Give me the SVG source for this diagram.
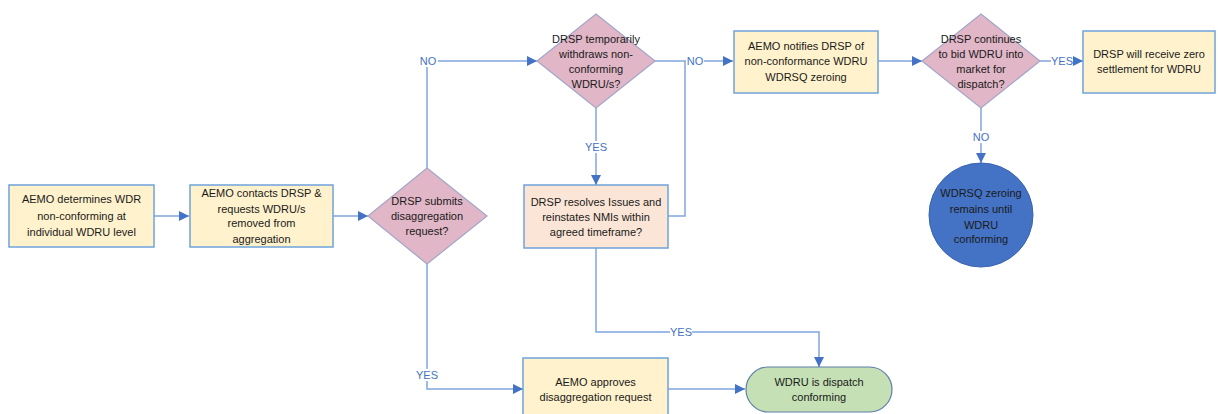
<svg xmlns="http://www.w3.org/2000/svg" width="1218" height="414" viewBox="0 0 1218 414">
<defs>
<style>
.box{fill:#FFF2CC;stroke:#6FA3DA;stroke-width:1.5}
.peach{fill:#FBE5D6;stroke:#6FA3DA;stroke-width:1.5}
.dia{fill:#E1B6C6;stroke:#A3A6C9;stroke-width:1.2}
.term{fill:#C5E0B4;stroke:#5F7FA8;stroke-width:1.2}
.circ{fill:#4472C4;stroke:#3A64B0;stroke-width:1}
.t{font-family:"Liberation Sans",Arial,sans-serif;font-size:11px;fill:#1A1A1A;text-anchor:middle}
.lbl{font-family:"Liberation Sans",Arial,sans-serif;font-size:11px;fill:#4472C4;text-anchor:middle}
.c{fill:none;stroke:#7FA6DD;stroke-width:1.5}
.lb{fill:#FFFFFF}
</style>
<marker id="ah" viewBox="0 0 10 10" refX="10" refY="5" markerWidth="10" markerHeight="10" markerUnits="userSpaceOnUse" orient="auto">
<path d="M0,0 L10,5 L0,10 z" fill="#4472C4"/>
</marker>
</defs>
<rect width="1218" height="414" fill="#FFFFFF"/>

<g id="connectors">
<path class="c" d="M154,216 H189" marker-end="url(#ah)"/>
<path class="c" d="M333,216 H368" marker-end="url(#ah)"/>
<path class="c" d="M427,168 V61 H537" marker-end="url(#ah)"/>
<path class="c" d="M596,108 V185" marker-end="url(#ah)"/>
<path class="c" d="M655,61 H733" marker-end="url(#ah)"/>
<path class="c" d="M668,216 H685 V61"/>
<path class="c" d="M878,61 H922" marker-end="url(#ah)"/>
<path class="c" d="M1040,61 H1083" marker-end="url(#ah)"/>
<path class="c" d="M981,108 V163" marker-end="url(#ah)"/>
<path class="c" d="M427,264 V389 H523" marker-end="url(#ah)"/>
<path class="c" d="M668,389 H745" marker-end="url(#ah)"/>
<path class="c" d="M596,248 V332 H819 V367" marker-end="url(#ah)"/>
<rect class="lb" x="418" y="55" width="20" height="12"/>
<text class="lbl" x="428" y="65">NO</text>
<rect class="lb" x="585" y="141" width="22" height="12"/>
<text class="lbl" x="596" y="151">YES</text>
<rect class="lb" x="686" y="55" width="18" height="12"/>
<text class="lbl" x="695" y="65">NO</text>
<rect class="lb" x="1051" y="55" width="22" height="12"/>
<text class="lbl" x="1062" y="65">YES</text>
<rect class="lb" x="972" y="131" width="18" height="12"/>
<text class="lbl" x="981" y="141">NO</text>
<rect class="lb" x="416" y="369" width="22" height="12"/>
<text class="lbl" x="427" y="379">YES</text>
<rect class="lb" x="670" y="326" width="22" height="12"/>
<text class="lbl" x="681" y="336">YES</text>
</g>

<g id="n1">
<rect class="box" x="9" y="185" width="145" height="62"/>
<text class="t" x="81.5" y="203">AEMO determines WDR</text>
<text class="t" x="81.5" y="220">non-conforming at</text>
<text class="t" x="81.5" y="236">individual WDRU level</text>
</g>

<g id="n2">
<rect class="box" x="190" y="185" width="143" height="62"/>
<text class="t" x="261.5" y="197">AEMO contacts DRSP &amp;</text>
<text class="t" x="261.5" y="213">requests WDRU/s</text>
<text class="t" x="261.5" y="227">removed from</text>
<text class="t" x="261.5" y="243">aggregation</text>
</g>

<g id="n3">
<polygon class="dia" points="427,168 487,216 427,264 368,216"/>
<text class="t" x="427" y="205">DRSP submits</text>
<text class="t" x="427" y="220">disaggregation</text>
<text class="t" x="427" y="235">request?</text>
</g>

<g id="n4">
<polygon class="dia" points="596,14 655,61 596,108 537,61"/>
<text class="t" x="596" y="43">DRSP temporarily</text>
<text class="t" x="596" y="58">withdraws non-</text>
<text class="t" x="596" y="73">conforming</text>
<text class="t" x="596" y="88">WDRU/s?</text>
</g>

<g id="n5">
<rect class="peach" x="524" y="185" width="144" height="63"/>
<text class="t" x="596" y="206">DRSP resolves Issues and</text>
<text class="t" x="596" y="221">reinstates NMIs within</text>
<text class="t" x="596" y="236">agreed timeframe?</text>
</g>

<g id="n6">
<rect class="box" x="734" y="31" width="144" height="62"/>
<text class="t" x="806" y="50">AEMO notifies DRSP of</text>
<text class="t" x="806" y="65">non-conformance WDRU</text>
<text class="t" x="806" y="81">WDRSQ zeroing</text>
</g>

<g id="n7">
<polygon class="dia" points="981,14 1040,61 981,108 922,61"/>
<text class="t" x="981" y="43">DRSP continues</text>
<text class="t" x="981" y="58">to bid WDRU into</text>
<text class="t" x="981" y="73">market for</text>
<text class="t" x="981" y="88">dispatch?</text>
</g>

<g id="n8">
<rect class="box" x="1083" y="31" width="132" height="62"/>
<text class="t" x="1149" y="58">DRSP will receive zero</text>
<text class="t" x="1149" y="73">settlement for WDRU</text>
</g>

<g id="n9">
<circle class="circ" cx="981" cy="215" r="52"/>
<text class="t" x="981" y="197">WDRSQ zeroing</text>
<text class="t" x="981" y="213">remains until</text>
<text class="t" x="981" y="229">WDRU</text>
<text class="t" x="981" y="243">conforming</text>
</g>

<g id="n10">
<rect class="box" x="523" y="358" width="145" height="62"/>
<text class="t" x="595.5" y="386">AEMO approves</text>
<text class="t" x="595.5" y="401">disaggregation request</text>
</g>

<g id="n11">
<rect class="term" x="746" y="367" width="146" height="45" rx="22.5" ry="22.5"/>
<text class="t" x="819" y="386">WDRU is dispatch</text>
<text class="t" x="819" y="401">conforming</text>
</g>
</svg>
